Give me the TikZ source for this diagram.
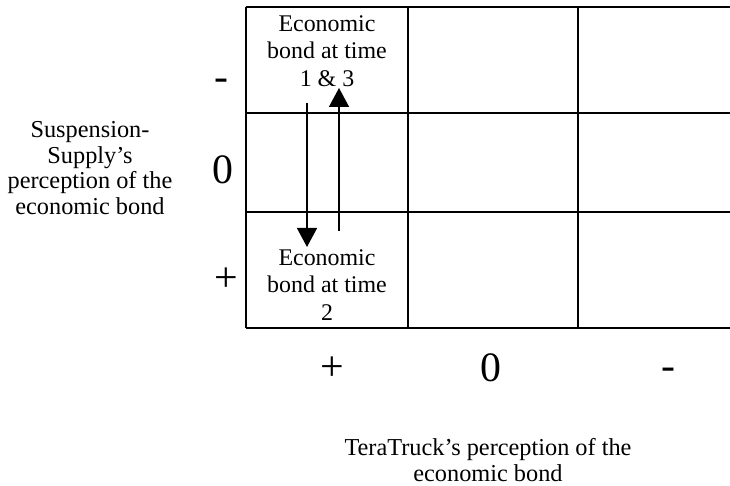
\documentclass[tikz,border=0pt]{standalone}
\usepackage{fontspec}
\setmainfont{Liberation Serif}
\usepackage{tikz}
\usetikzlibrary{positioning,arrows.meta}

\begin{document}
\begin{tikzpicture}[x=0.5bp,y=-0.5bp,line width=0.8bp,
  celltext/.style={align=center,font=\fontsize{12}{13.8}\selectfont,inner sep=0pt},
  sign/.style={font=\fontsize{21}{23}\selectfont,inner sep=0pt},
  axislabel/.style={align=center,font=\fontsize{12.2}{12.8}\selectfont,inner sep=0pt},
  bondarrow/.style={-{Triangle[length=9.5bp,width=10bp]},line width=0.75bp}]
\useasboundingbox (0,0) rectangle (730,486);
% grid
\draw (246,7) -- (730,7);
\draw (246,113) -- (730,113);
\draw (246,212) -- (730,212);
\draw (246,328) -- (730,328);
\draw (246,7) -- (246,328);
\draw (408,7) -- (408,328);
\draw (578,7) -- (578,328);
% cells
\node[celltext] (time13) at (327,51) {Economic\\bond at time\\1 \& 3};
\node[celltext] (time2) at (327,285) {Economic\\bond at time\\2};
% row and column signs
\node[sign] (rowminus) at (221,85) {-};
\node[sign] (rowzero) at (223,170) {0};
\node[sign] (rowplus) at (226,280) {+};
\node[sign] (colplus) at (332,369) {+};
\node[sign] (colzero) at (491,368) {0};
\node[sign] (colminus) at (668,374) {-};
% axis labels
\node[axislabel] (suspension) at (90,168) {Suspension-\\Supply’s\\perception of the\\economic bond};
\node[axislabel] (teratruck) at (488,460) {TeraTruck’s perception of the\\economic bond};
% arrows
\coordinate (downstart) at (307,103);
\coordinate (downend) at (307,247);
\coordinate (upstart) at (339,231);
\coordinate (upend) at (339,88);
\draw[bondarrow] (downstart) -- (downend);
\draw[bondarrow] (upstart) -- (upend);
\end{tikzpicture}
\end{document}
